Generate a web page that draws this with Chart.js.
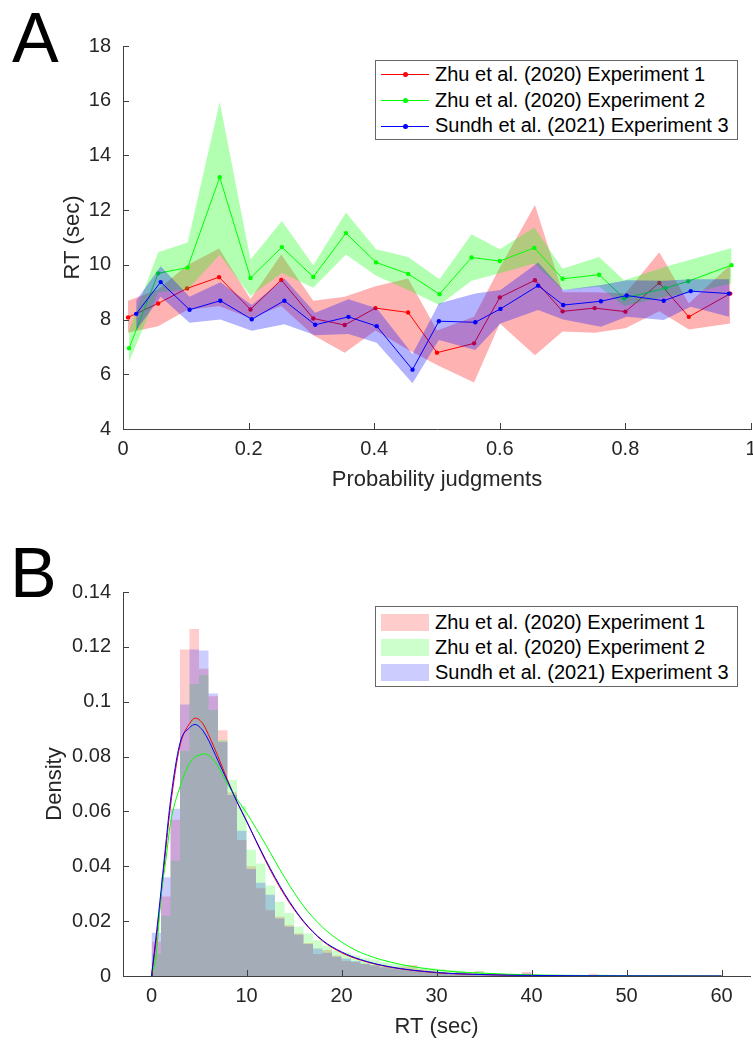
<!DOCTYPE html>
<html>
<head>
<meta charset="utf-8">
<script src="https://cdn.jsdelivr.net/npm/chart.js@4.4.1/dist/chart.umd.min.js"></script>
<style>
  body { margin: 0; background: #fff; }
  #wrap { position: relative; width: 753px; height: 1040px; overflow: hidden;
          font-family: Helvetica, "Liberation Sans", Arial, sans-serif; }
  canvas { position: absolute; left: 0; }
  .letter { position: absolute; font-size: 70px; line-height: 70px; color: #000; }
  .legend { position: absolute; border: 1px solid #666; background: #fff; box-sizing: border-box; }
  .legend .row { position: absolute; left: 0; right: 0; }
  .legend .txt { position: absolute; left: 59px; font-size: 20px; color: #000; white-space: nowrap; }
  .legend .ln { position: absolute; left: 5px; width: 48px; height: 1px; }
  .legend .dot { position: absolute; left: 27px; width: 5px; height: 5px; border-radius: 50%; }
  .legend .sw { position: absolute; left: 5px; width: 48px; height: 17px; }
</style>
</head>
<body>
<div id="wrap">
  <div class="letter" style="left:12px; top:3px;">A</div>
  <div class="letter" style="left:10px; top:538px;">B</div>
  <canvas id="chartA" width="753" height="520" style="top:0"></canvas>
  <canvas id="chartB" width="753" height="520" style="top:520px"></canvas>
  <div class="legend" id="legA" style="left:375px; top:60px; width:363px; height:80px;"></div>
  <div class="legend" id="legB" style="left:375px; top:606px; width:363px; height:81px;"></div>
</div>
<script>
const seriesNames = ['Zhu et al. (2020) Experiment 1', 'Zhu et al. (2020) Experiment 2', 'Sundh et al. (2021) Experiment 3'];
const seriesColors = ['#ff0000', '#00ff00', '#0000ff'];
const bandColors = ['rgba(255,0,0,0.3)', 'rgba(0,255,0,0.3)', 'rgba(0,0,255,0.3)'];
const histColors = ['rgba(255,0,0,0.2)', 'rgba(0,255,0,0.2)', 'rgba(0,0,255,0.2)'];

// panel A: mean RT per probability bin, with band
const probX1 = [0.008, 0.056, 0.102, 0.153, 0.203, 0.252, 0.303, 0.353, 0.402, 0.454, 0.5, 0.559, 0.6, 0.656, 0.7, 0.751, 0.8, 0.854, 0.901, 0.967];
const rt1 = [8.08, 8.59, 9.14, 9.55, 8.37, 9.45, 8.04, 7.80, 8.42, 8.26, 6.79, 7.13, 8.81, 9.44, 8.30, 8.42, 8.29, 9.34, 8.10, 8.95];
const lo1 = [7.52, 7.76, 8.35, 8.5, 8.05, 8.5, 7.43, 6.79, 7.6, 6.9, 6.34, 5.7, 7.86, 6.70, 7.56, 7.52, 7.68, 8.3, 7.64, 7.86];
const hi1 = [8.69, 9.1, 9.99, 10.6, 8.75, 10.38, 8.69, 8.83, 9.22, 9.5, 7.6, 8.1, 9.9, 12.19, 9.0, 9.0, 8.95, 10.46, 8.59, 10.0];

const probX2 = [0.0096, 0.056, 0.103, 0.154, 0.203, 0.253, 0.303, 0.355, 0.403, 0.454, 0.504, 0.555, 0.6, 0.655, 0.7, 0.758, 0.798, 0.864, 0.9, 0.969];
const rt2 = [6.95, 9.69, 9.90, 13.20, 9.52, 10.65, 9.56, 11.16, 10.09, 9.67, 8.93, 10.27, 10.14, 10.62, 9.49, 9.64, 8.78, 9.15, 9.40, 9.99];
const lo2 = [6.45, 9.0, 9.1, 10.36, 8.86, 9.7, 9.16, 10.38, 9.6, 9.08, 8.53, 9.42, 9.69, 10.05, 9.08, 9.2, 8.5, 8.83, 8.95, 9.32];
const hi2 = [7.6, 10.46, 10.82, 15.96, 10.2, 11.6, 9.99, 11.91, 10.57, 10.29, 9.47, 11.12, 10.57, 11.37, 9.86, 10.29, 9.44, 9.93, 10.17, 10.62];

const probX3 = [0.021, 0.060, 0.106, 0.155, 0.205, 0.257, 0.306, 0.359, 0.404, 0.461, 0.503, 0.561, 0.601, 0.661, 0.701, 0.761, 0.802, 0.861, 0.904, 0.965];
const rt3 = [8.21, 9.37, 8.36, 8.69, 8.01, 8.69, 7.81, 8.10, 7.76, 6.17, 7.94, 7.90, 8.39, 9.24, 8.53, 8.67, 8.88, 8.69, 9.04, 8.95];
const lo3 = [7.6, 8.83, 7.88, 8.0, 7.59, 7.83, 7.43, 7.47, 7.15, 5.67, 7.25, 6.89, 7.86, 8.35, 8.0, 7.74, 8.1, 7.98, 8.47, 8.1];
const hi3 = [8.7, 9.95, 8.83, 9.36, 8.53, 9.5, 8.25, 8.74, 8.41, 6.74, 8.59, 8.95, 9.08, 10.09, 9.08, 9.26, 9.44, 9.42, 9.47, 9.47];

// panel B: RT histograms (1 s bins, edges 0..60) and fitted densities
const binEdges = [0, 1, 2, 3, 4, 5, 6, 7, 8, 9, 10, 11, 12, 13, 14, 15, 16, 17, 18, 19, 20, 21, 22, 23, 24, 25, 26, 27, 28, 29, 30,
  31, 32, 33, 34, 35, 36, 37, 38, 39, 40, 41, 42, 43, 44, 45, 46, 47, 48, 49, 50, 51, 52, 53, 54, 55, 56, 57, 58, 59, 60];
const dens1 = [0.0125, 0.029, 0.057, 0.119, 0.1265, 0.112, 0.102, 0.0896, 0.067, 0.0496, 0.040, 0.032, 0.024, 0.0216, 0.0185, 0.0155, 0.012, 0.008, 0.0095, 0.0075,
  0.0055, 0.005, 0.0045, 0.004, 0.0035, 0.003, 0.0035, 0.004, 0.0025, 0.002, 0.0015, 0.0012, 0.0014, 0.001, 0.0017, 0.0008, 0.0007, 0.0006, 0.0005, 0.0015,
  0.0005, 0.0004, 0.0004, 0.0003, 0.0003, 0.0003, 0.0008, 0.0002, 0.0002, 0.0002, 0.0001, 0.0001, 0.0001, 0.0001, 0.0001, 0.0001, 0, 0, 0, 0];
const dens2 = [0.008, 0.022, 0.042, 0.082, 0.1065, 0.1097, 0.097, 0.086, 0.0715, 0.062, 0.046, 0.041, 0.033, 0.027, 0.023, 0.018, 0.0155, 0.013, 0.011, 0.0093,
  0.0085, 0.0075, 0.0065, 0.006, 0.005, 0.0045, 0.004, 0.0035, 0.003, 0.0028, 0.0025, 0.0022, 0.002, 0.0015, 0.0018, 0.0012, 0.001, 0.0009, 0.0008, 0.0007,
  0.0006, 0.0005, 0.0005, 0.0004, 0.0004, 0.0003, 0.0003, 0.0006, 0.0005, 0.0004, 0.0002, 0.0002, 0.0002, 0.0001, 0.0001, 0.0001, 0.0001, 0.0001, 0.0001, 0];
const dens3 = [0.0158, 0.036, 0.061, 0.099, 0.119, 0.1187, 0.103, 0.0854, 0.066, 0.053, 0.039, 0.034, 0.0296, 0.021, 0.018, 0.015, 0.0117, 0.010, 0.0085, 0.007,
  0.0064, 0.0055, 0.0045, 0.0038, 0.0032, 0.0028, 0.0025, 0.002, 0.0018, 0.0015, 0.0013, 0.001, 0.0015, 0.0008, 0.001, 0.0009, 0.0007, 0.0006, 0.0005, 0.0009,
  0.0004, 0.0004, 0.0003, 0.0003, 0.0002, 0.0002, 0.0002, 0.0002, 0.0001, 0.0001, 0.0001, 0.0001, 0.0001, 0.0001, 0.0001, 0, 0, 0, 0, 0];

const fitX = [0, 0.5, 1, 1.5, 2, 3, 4, 4.6, 5, 5.5, 6, 7, 8, 9, 10, 12, 14, 16, 18, 20, 22, 25, 30, 35, 40, 45, 50, 55, 60];
const fit1 = [0, 0.013, 0.029, 0.046, 0.062, 0.084, 0.092, 0.094, 0.0935, 0.0915, 0.088, 0.080, 0.0715, 0.0635, 0.0565, 0.042, 0.0295, 0.0198, 0.0128, 0.0085, 0.0058, 0.0033, 0.0012, 0.0005, 0.0002, 0.0001, 0.00005, 0.00002, 0];
const fit2 = [0, 0.008, 0.029, 0.042, 0.0557, 0.069, 0.0775, 0.0800, 0.0805, 0.081, 0.0805, 0.0765, 0.0700, 0.0645, 0.0595, 0.0480, 0.0360, 0.0255, 0.0178, 0.0124, 0.0086, 0.0052, 0.0022, 0.0010, 0.0004, 0.0002, 0.0001, 0.00005, 0];
const fit3 = [0, 0.015, 0.031, 0.048, 0.064, 0.085, 0.0905, 0.0917, 0.091, 0.089, 0.086, 0.0785, 0.071, 0.0635, 0.0565, 0.0425, 0.0300, 0.0200, 0.0130, 0.0088, 0.0060, 0.0034, 0.0013, 0.0005, 0.0002, 0.0001, 0.00005, 0.00002, 0];

const AXIS = '#404040';
const FONT = 'Helvetica, "Liberation Sans", Arial, sans-serif';
Chart.defaults.font.family = FONT;
Chart.defaults.color = '#262626';

const pts = (xs, ys) => xs.map((x, i) => ({ x, y: ys[i] }));
const tickFmt = (v) => String(Number(v.toFixed(6)));

// MATLAB style ticks pointing into the plot
const innerTicks = {
  id: 'innerTicks',
  afterDraw(chart) {
    const { ctx, chartArea, scales } = chart;
    ctx.save();
    ctx.strokeStyle = AXIS;
    ctx.lineWidth = 1;
    ctx.beginPath();
    scales.x.ticks.forEach((t) => {
      const px = Math.round(scales.x.getPixelForValue(t.value)) + 0.5;
      ctx.moveTo(px, chartArea.bottom);
      ctx.lineTo(px, chartArea.bottom - 6);
    });
    scales.y.ticks.forEach((t) => {
      const py = Math.round(scales.y.getPixelForValue(t.value)) + 0.5;
      ctx.moveTo(chartArea.left, py);
      ctx.lineTo(chartArea.left + 6, py);
    });
    ctx.stroke();
    ctx.restore();
  },
};

function axisX(min, max, step, title, titlePad, height) {
  return {
    type: 'linear', min, max, offset: false,
    grid: { display: false, drawTicks: false },
    border: { display: true, color: AXIS, width: 1 },
    ticks: { stepSize: step, includeBounds: false, padding: 8, font: { size: 20 }, maxRotation: 0, autoSkip: false, callback: tickFmt },
    title: { display: true, text: title, font: { size: 22 }, color: '#262626', padding: { top: 0, bottom: titlePad } },
    afterFit: (s) => { s.height = height; s.paddingLeft = 0; s.paddingRight = 0; },
  };
}

function axisY(min, max, step, title, titlePad) {
  return {
    min, max,
    grid: { display: false, drawTicks: false },
    border: { display: true, color: AXIS, width: 1 },
    ticks: { stepSize: step, padding: 12, font: { size: 20 }, callback: tickFmt },
    title: { display: true, text: title, font: { size: 22 }, color: '#262626', padding: { top: titlePad, bottom: 0 } },
    afterFit: (s) => { s.width = 123; s.paddingTop = 0; s.paddingBottom = 0; },
  };
}

// panel A datasets: band (lower + upper filled to lower) then line, per series
const seriesA = [[probX1, rt1, lo1, hi1], [probX2, rt2, lo2, hi2], [probX3, rt3, lo3, hi3]];
const dataA = [];
seriesA.forEach(([xs, m, lo, hi], i) => {
  const base = 30 - i * 10;
  dataA.push({ data: pts(xs, lo), borderWidth: 0, borderColor: 'transparent', pointRadius: 0, fill: false, order: base + 3 });
  dataA.push({ data: pts(xs, hi), borderWidth: 0, borderColor: 'transparent', pointRadius: 0, fill: '-1', backgroundColor: bandColors[i], order: base + 2 });
  dataA.push({ label: seriesNames[i], data: pts(xs, m), borderColor: seriesColors[i], borderWidth: 1, pointRadius: 2.2,
    pointBorderWidth: 0, pointBackgroundColor: seriesColors[i], fill: false, tension: 0, order: base + 1 });
});

new Chart(document.getElementById('chartA'), {
  type: 'line',
  data: { datasets: dataA },
  options: {
    responsive: false, animation: false, devicePixelRatio: 1,
    layout: { autoPadding: false, padding: { top: 46, right: 2, left: 0, bottom: 0 } },
    plugins: { legend: { display: false }, tooltip: { enabled: false } },
    scales: {
      x: axisX(0, 1, 0.2, 'Probability judgments', 27, 91),
      y: axisY(4, 18, 2, 'RT (sec)', 60),
    },
  },
  plugins: [innerTicks],
});

// histograms as filled step outlines (one shape per series, no seams between bins)
const histSets = [dens1, dens2, dens3];
const fitSets = [fit1, fit2, fit3];
const dataB = [];
histSets.forEach((d, i) => {
  dataB.push({ label: seriesNames[i], data: pts(binEdges, d.concat([0])), stepped: 'before', fill: 'origin',
    backgroundColor: histColors[i], borderWidth: 0, borderColor: 'transparent', pointRadius: 0, order: 20 - i });
});
fitSets.forEach((d, i) => {
  dataB.push({ data: pts(fitX, d), borderColor: seriesColors[i], borderWidth: 1, pointRadius: 0,
    fill: false, cubicInterpolationMode: 'monotone', order: 10 - i });
});

new Chart(document.getElementById('chartB'), {
  type: 'line',
  data: { datasets: dataB },
  options: {
    responsive: false, animation: false, devicePixelRatio: 1,
    layout: { autoPadding: false, padding: { top: 72, right: 3, left: 0, bottom: 0 } },
    plugins: { legend: { display: false }, tooltip: { enabled: false } },
    scales: {
      x: axisX(-3, 63, 10, 'RT (sec)', 0, 64),
      y: axisY(0, 0.14, 0.02, 'Density', 42),
    },
  },
  plugins: [innerTicks],
});

// legends as html text
function buildLegend(id, rowTop, rowH, kind) {
  const box = document.getElementById(id);
  seriesNames.forEach((name, i) => {
    const row = document.createElement('div');
    row.className = 'row';
    row.style.top = (rowTop + i * rowH) + 'px';
    row.style.height = rowH + 'px';
    if (kind === 'line') {
      row.innerHTML = `<div class="ln" style="top:${rowH / 2 - 0.5}px;background:${seriesColors[i]}"></div>` +
        `<div class="dot" style="top:${rowH / 2 - 2.5}px;background:${seriesColors[i]}"></div>`;
    } else {
      row.innerHTML = `<div class="sw" style="top:${rowH / 2 - 8.5}px;background:${histColors[i]}"></div>`;
    }
    const t = document.createElement('div');
    t.className = 'txt';
    t.style.top = '0px';
    t.style.lineHeight = rowH + 'px';
    t.textContent = name;
    row.appendChild(t);
    box.appendChild(row);
  });
}
buildLegend('legA', 1, 25.7, 'line');
buildLegend('legB', 2.5, 25, 'patch');
</script>
</body>
</html>
